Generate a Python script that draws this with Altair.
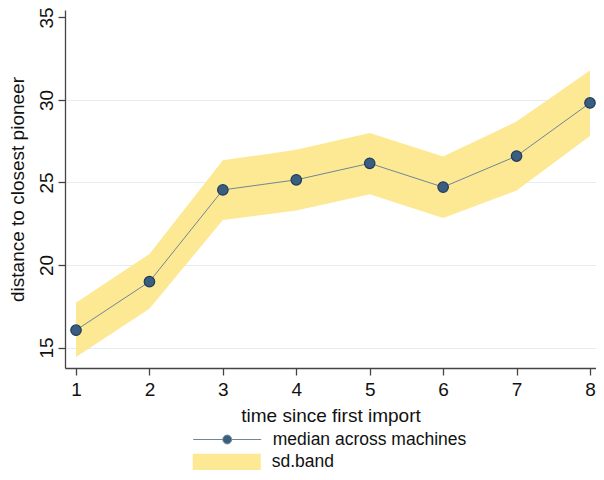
import altair as alt
import pandas as pd

time_vals = [1, 2, 3, 4, 5, 6, 7, 8]
median_vals = [16.05, 18.99, 24.55, 25.16, 26.16, 24.72, 26.60, 29.82]
upper_vals = [17.71, 20.67, 26.34, 26.98, 28.00, 26.58, 28.69, 31.78]
lower_vals = [14.43, 17.35, 22.73, 23.30, 24.29, 22.85, 24.51, 27.81]
series_names = ["median across machines", "sd.band"]
y_ticks = [15, 20, 25, 30, 35]
x_ticks = [1, 2, 3, 4, 5, 6, 7, 8]

df = pd.DataFrame({"t": time_vals, "med": median_vals, "hi": upper_vals, "lo": lower_vals,
                   "line_lbl": [series_names[0]] * len(time_vals),
                   "band_lbl": [series_names[1]] * len(time_vals)})

FONT = "Liberation Sans"
xs = alt.Scale(domain=[0.850, 8.082], nice=False, zero=False)
ys = alt.Scale(domain=[13.76, 35.45], nice=False, zero=False)

x_axis = alt.Axis(values=x_ticks, format="d", title="time since first import", grid=False,
                  labelFontSize=19, titleFontSize=19, labelFont=FONT, titleFont=FONT,
                  labelColor="#111", titleColor="#111", titleFontWeight="normal",
                  tickSize=7, tickWidth=1.3, tickColor="#444", domainColor="#444",
                  domainWidth=1.3, labelPadding=5, titleBaseline="alphabetic", titleY=53)
y_axis = alt.Axis(values=y_ticks, format="d", title="distance to closest pioneer",
                  labelFontSize=19, titleFontSize=19, labelFont=FONT, titleFont=FONT,
                  labelColor="#111", titleColor="#111", titleFontWeight="normal",
                  labelAngle=270, labelAlign="center", labelBaseline="alphabetic",
                  labelPadding=6, tickSize=7, tickWidth=1.3, tickColor="#444",
                  domainColor="#444", domainWidth=1.3,
                  gridColor={"condition": {"test": "datum.value === 35", "value": "transparent"},
                             "value": "#E3EDF1"},
                  gridWidth=1.2, titleBaseline="alphabetic", titleX=-42, titleAngle=270)

base = alt.Chart(df)

band = base.mark_area(opacity=1).encode(
    x=alt.X("t:Q", scale=xs, axis=x_axis),
    y=alt.Y("lo:Q", scale=ys, axis=y_axis),
    y2="hi:Q",
    fill=alt.Fill("band_lbl:N",
                  scale=alt.Scale(domain=[series_names[1]], range=["#FDE893"]),
                  legend=alt.Legend(title=None, orient="none", legendX=127.7, legendY=418,
                                    symbolType="M-1,-0.24H1V0.24H-1Z", symbolSize=4624,
                                    symbolStrokeWidth=0, labelFontSize=17.5, labelFont=FONT,
                                    labelColor="#111", labelOffset=11, padding=0,
                                    labelLimit=400)),
)

line = base.mark_line(strokeWidth=1).encode(
    x=alt.X("t:Q", scale=xs),
    y=alt.Y("med:Q", scale=ys),
    stroke=alt.Stroke("line_lbl:N",
                      scale=alt.Scale(domain=[series_names[0]], range=["#6F8797"]),
                      legend=alt.Legend(title=None, orient="none", legendX=127.7, legendY=395,
                                        symbolType="M-1,0H-0.13M0.13,0H1M-0.13,0A0.13,0.13,0,1,1,0.13,0A0.13,0.13,0,1,1,-0.13,0Z",
                                        symbolSize=4624, symbolStrokeWidth=1,
                                        symbolFillColor="#3B5E80",
                                        labelFontSize=17.5, labelFont=FONT,
                                        labelColor="#111", labelOffset=11, padding=0,
                                        labelLimit=400)),
)

points = base.mark_point(filled=True, size=110, opacity=1, fill="#3B5E80",
                         stroke="#1D3C5C", strokeWidth=1.2).encode(
    x=alt.X("t:Q", scale=xs),
    y=alt.Y("med:Q", scale=ys),
)

chart = alt.layer(band, line, points).resolve_legend(fill="independent", stroke="independent").properties(
    width=531, height=358,
    autosize=alt.AutoSizeParams(type="none"),
    padding={"left": 57, "top": 2, "right": 0, "bottom": 102},
    background="white",
).configure_view(stroke=None)

chart.save("out.html", embed_options={"renderer": "svg", "actions": False})
